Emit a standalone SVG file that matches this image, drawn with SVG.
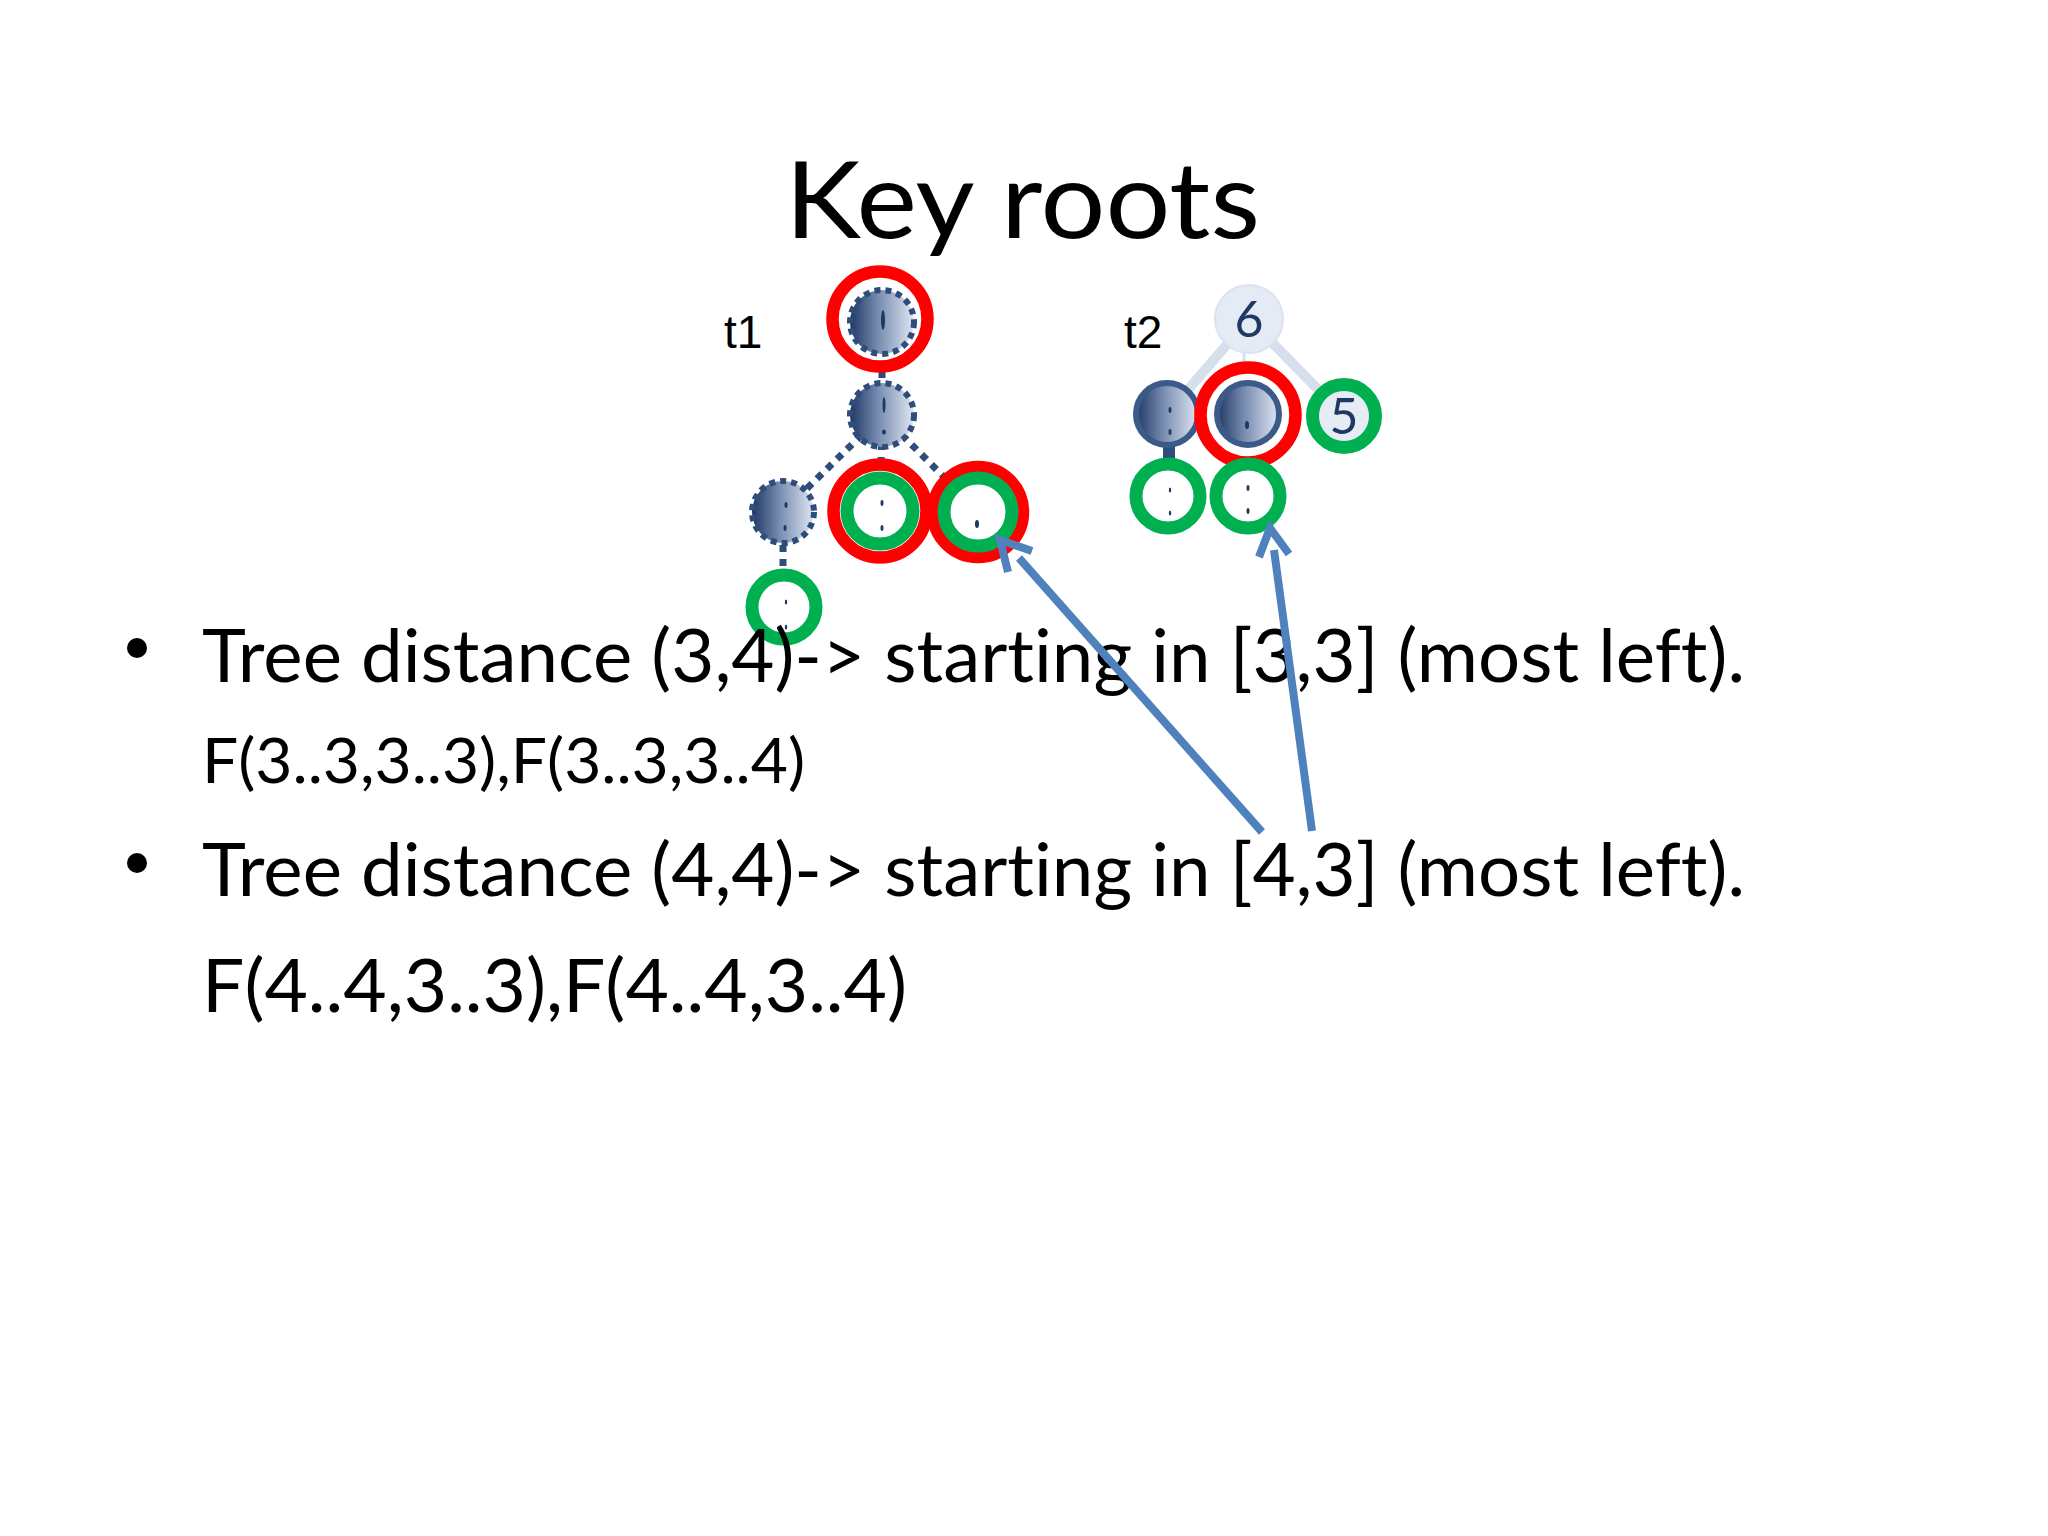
<svg xmlns="http://www.w3.org/2000/svg" width="2048" height="1536" viewBox="0 0 2048 1536">
<defs>
<linearGradient id="ng" x1="0" y1="0" x2="1" y2="0">
<stop offset="0" stop-color="#1f3864"/>
<stop offset="0.45" stop-color="#7a8eb2"/>
<stop offset="1" stop-color="#dfe7f3"/>
</linearGradient>
<style>
.txt{font-family:Lato,"Open Sans","Liberation Sans",sans-serif;fill:#000;font-variant-ligatures:none;font-feature-settings:"liga" 0,"clig" 0}
.lbl{font-family:"Liberation Sans",Arial,sans-serif;font-size:46px;fill:#000}
.num{font-family:Lato,"Open Sans",sans-serif;font-size:50px;fill:#1f3864;text-anchor:middle}
.dot{fill:url(#ng);stroke:#2e4d7b;stroke-width:6;stroke-dasharray:6 5}
.solid{fill:url(#ng);stroke:#3b5a88;stroke-width:6}
.red{fill:#fff;stroke:#ff0000;stroke-width:12.5}
.green{fill:#fff;stroke:#00b050;stroke-width:13}
.light{fill:#e5ebf4;stroke:#dbe3ef;stroke-width:2}
.mark{fill:#1f3864}
.dedge{stroke:#2e4d7b;stroke-width:7;stroke-dasharray:7 7;fill:none}
.ledge{stroke:#d6dfec;stroke-width:10;fill:none}
.stub{stroke:#2e4d7b;stroke-width:12;fill:none}
.arrow{stroke:#4f81bd;stroke-width:8;fill:none}
</style>
</defs>
<rect width="2048" height="1536" fill="#fff"/>

<text class="txt" x="785" y="238" font-size="107" textLength="475" lengthAdjust="spacingAndGlyphs">Key roots</text>

<text class="lbl" x="724" y="348">t1</text>
<text class="lbl" x="1124" y="348">t2</text>

<g id="connectors">
<line class="dedge" x1="882" y1="357" x2="882" y2="382"/>
<line class="dedge" x1="882" y1="415" x2="783" y2="512"/>
<line class="dedge" x1="882" y1="415" x2="978" y2="511"/>
<line class="dedge" x1="882" y1="415" x2="880" y2="511"/>
<line class="dedge" x1="783" y1="545" x2="783" y2="572"/>
<line class="ledge" x1="1249" y1="319" x2="1167" y2="414"/>
<line class="ledge" x1="1249" y1="319" x2="1344" y2="416"/>
<line class="ledge" style="stroke-width:3" x1="1244" y1="340" x2="1244" y2="380"/>
<line class="stub" x1="1169" y1="445" x2="1169" y2="460"/>
<line class="stub" x1="1248" y1="445" x2="1248" y2="460"/>
</g>

<g id="t1-n1">
<circle class="red" cx="880" cy="319" r="47.5"/>
<circle class="dot" cx="882" cy="322" r="32"/>
<ellipse class="mark" cx="883" cy="320" rx="2" ry="10"/>
</g>
<g id="t1-n2">
<circle class="dot" cx="882" cy="415" r="32"/>
<ellipse class="mark" cx="884" cy="405" rx="1.5" ry="8"/>
<ellipse class="mark" cx="884" cy="432" rx="2" ry="2.5"/>
</g>
<g id="t1-n3">
<circle class="dot" cx="783" cy="512" r="31"/>
<ellipse class="mark" cx="786" cy="505" rx="1.5" ry="3"/>
<ellipse class="mark" cx="785" cy="528" rx="1.5" ry="3"/>
</g>
<g id="t1-n4">
<circle class="red" cx="880" cy="511" r="46.5"/>
<circle class="green" cx="880" cy="511" r="33"/>
<ellipse class="mark" cx="882" cy="503" rx="1.5" ry="3"/>
<ellipse class="mark" cx="882" cy="528" rx="1.5" ry="3"/>
</g>
<g id="t1-n5">
<circle class="red" cx="978" cy="512" r="45"/>
<circle class="green" cx="978" cy="512" r="34"/>
<ellipse class="mark" cx="977" cy="524" rx="2" ry="4"/>
</g>
<g id="t1-n6">
<circle class="green" cx="784" cy="607" r="32"/>
<ellipse class="mark" cx="786" cy="602" rx="1.2" ry="2.5"/>
<ellipse class="mark" cx="786" cy="627" rx="1.2" ry="2.5"/>
</g>

<g id="t2-n6">
<circle class="light" cx="1249" cy="319" r="34"/>
<text class="num" x="1249" y="337">6</text>
</g>
<g id="t2-na">
<circle class="solid" cx="1167" cy="414" r="31"/>
<ellipse class="mark" cx="1170" cy="410" rx="1.5" ry="3"/>
<ellipse class="mark" cx="1170" cy="432" rx="1.5" ry="3"/>
</g>
<g id="t2-nb">
<circle class="red" cx="1248" cy="415" r="47.5"/>
<circle class="solid" cx="1248" cy="414" r="31"/>
<ellipse class="mark" cx="1247" cy="425" rx="2" ry="4"/>
</g>
<g id="t2-n5">
<circle class="green" cx="1344" cy="416" r="31.5" style="fill:#e6ecf5"/>
<text class="num" x="1344" y="434">5</text>
</g>
<g id="t2-nc">
<circle class="green" cx="1168" cy="496" r="32"/>
<ellipse class="mark" cx="1170" cy="490" rx="1.2" ry="2.5"/>
<ellipse class="mark" cx="1170" cy="513" rx="1.2" ry="2.5"/>
</g>
<g id="t2-nd">
<circle class="green" cx="1248" cy="496" r="32"/>
<ellipse class="mark" cx="1248" cy="488" rx="1.5" ry="3"/>
<ellipse class="mark" cx="1248" cy="511" rx="1.5" ry="3"/>
</g>

<circle cx="137" cy="648" r="10" fill="#000"/>
<text class="txt" x="202" y="682" font-size="73" textLength="1543" lengthAdjust="spacingAndGlyphs">Tree distance (3,4)-&gt; starting in [3,3] (most left).</text>
<text class="txt" x="202" y="783" font-size="61" textLength="603" lengthAdjust="spacingAndGlyphs">F(3..3,3..3),F(3..3,3..4)</text>
<circle cx="137" cy="863" r="10" fill="#000"/>
<text class="txt" x="202" y="896" font-size="73" textLength="1543" lengthAdjust="spacingAndGlyphs">Tree distance (4,4)-&gt; starting in [4,3] (most left).</text>
<text class="txt" x="202" y="1012" font-size="73" textLength="705" lengthAdjust="spacingAndGlyphs">F(4..4,3..3),F(4..4,3..4)</text>

<g id="arrows">
<line class="arrow" x1="1262" y1="832" x2="1019" y2="558"/>
<polyline class="arrow" points="1008,572 1000,540 1032,551"/>
<line class="arrow" x1="1312" y1="831" x2="1274" y2="550"/>
<polyline class="arrow" points="1259,557 1270,528 1289,554"/>
</g>
</svg>
